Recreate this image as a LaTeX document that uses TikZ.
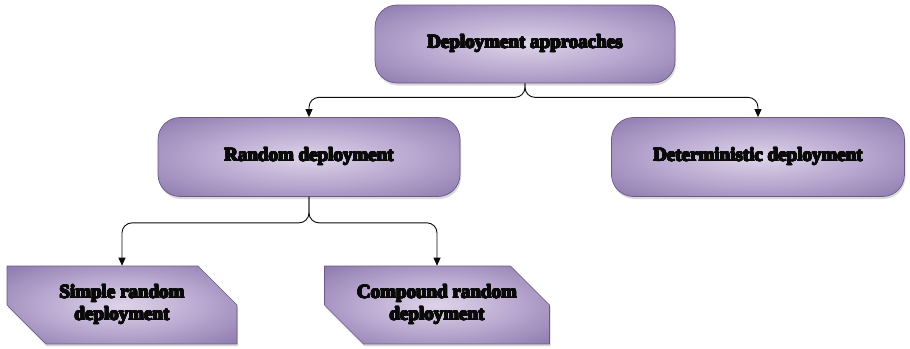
\documentclass[tikz,border=0pt]{standalone}
\usepackage{fontspec}
\setmainfont{Liberation Serif}
\usepackage[copies]{contour}
\contourlength{0.55pt}
\contournumber{16}
\usetikzlibrary{arrows.meta,shapes.misc,shadows}
\definecolor{dpink}{HTML}{0A0A0A}
\definecolor{dpin}{HTML}{DED4E9}
\definecolor{dpmid}{HTML}{B8A7CF}
\definecolor{dpout}{HTML}{8C79AE}
\definecolor{dprim}{HTML}{735F98}
\definecolor{dpline}{HTML}{6A5988}
\pgfdeclareradialshading{dpglow}{\pgfpoint{0bp}{0bp}}{color(0bp)=(dpin); color(18bp)=(dpmid); color(36bp)=(dpout); color(48bp)=(dprim); color(60bp)=(dprim)}
\newcommand\heavy[1]{\contour{dpink}{#1}}
\tikzset{
  dp text/.style={font=\fontsize{19}{22}\selectfont\bfseries, text=dpink},
  dp base/.style={draw=dpline, line width=0.7pt, shading=dpglow,
    drop shadow={opacity=0.3, shadow xshift=1pt, shadow yshift=-2.5pt},
    align=center, dp text, inner sep=0pt},
  dp round/.style={dp base, rectangle, rounded corners=22pt},
  dp snip/.style={dp base, chamfered rectangle,
    chamfered rectangle corners={north east, south west},
    chamfered rectangle xsep=25pt, chamfered rectangle ysep=19pt},
  dp arrow/.style={-{Triangle[length=8pt,width=7pt]}, line width=0.9pt,
    draw=dpink, rounded corners=10pt}
}

\begin{document}
\begin{tikzpicture}[x=1pt, y=-1pt]
  \useasboundingbox (0,0) rectangle (910,348);
  \node[dp round, minimum width=300pt, minimum height=78pt] (approach) at (525,44) {\heavy{Deployment approaches}};
  \node[dp round, minimum width=302pt, minimum height=79pt] (random) at (309,157) {\heavy{Random deployment}};
  \node[dp round, minimum width=293pt, minimum height=79pt] (determ) at (758,157) {\heavy{Deterministic deployment}};
  \node[dp snip, minimum width=230pt, minimum height=75pt] (simple) at (122,305) {\heavy{Simple random}\\\heavy{deployment}};
  \node[dp snip, minimum width=225pt, minimum height=75pt] (compound) at (437,305) {\heavy{Compound random}\\\heavy{deployment}};
  \draw[dp arrow] (approach.south) -- ++(0,14) -| (random.north);
  \draw[dp arrow] (approach.south) -- ++(0,14) -| (determ.north);
  \draw[dp arrow] (random.south) -- ++(0,26) -| (simple.north);
  \draw[dp arrow] (random.south) -- ++(0,26) -| (compound.north);
\end{tikzpicture}
\end{document}
